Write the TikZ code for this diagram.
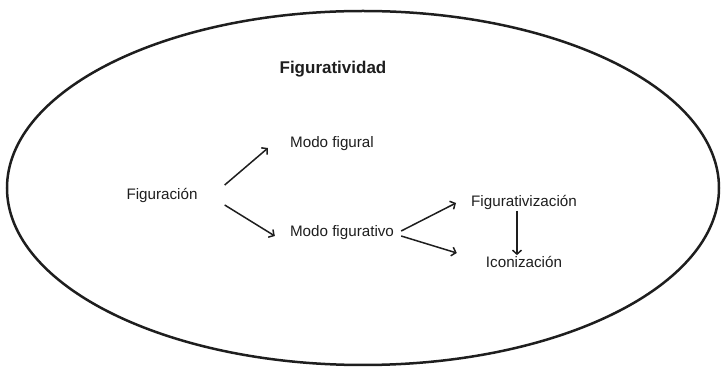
\documentclass[tikz,border=0pt]{standalone}
\usepackage{fontspec}
\setmainfont{Liberation Sans}
\usetikzlibrary{arrows.meta,calc,positioning}
\definecolor{InkBlack}{RGB}{30,30,30}

\begin{document}
\begin{tikzpicture}[x=1pt,y=1pt,>={Straight Barb[length=4pt,width=9pt]},
    term/.style={inner sep=0pt,text=InkBlack,font=\fontsize{15.2}{18}\selectfont},
    link/.style={->,line width=1.5pt,InkBlack}]
      \useasboundingbox (0,0) rectangle (721,367);
      \draw[line width=2.5pt,InkBlack] (363,179) ellipse [x radius=356, y radius=177];
      \node[term,font=\fontsize{17}{20}\selectfont\bfseries] (tit) at (333,298) {Figuratividad};
      \node[term] (fig) at (162,172) {Figuración};
      \node[term] (mfl) at (332,223) {Modo figural};
      \node[term] (mfv) at (342,134) {Modo figurativo};
      \node[term] (fzn) at (524,165) {Figurativización};
      \node[term] (icn) at (524,105) {Iconización};
      \draw[link] ([shift={(27pt,10pt)}]fig.east) -- ([shift={(-22pt,-4pt)}]mfl.west);
      \draw[link] ([shift={(27pt,-10pt)}]fig.east) -- ([shift={(-15pt,-3pt)}]mfv.west);
      \draw[link] ([shift={(7pt,2pt)}]mfv.east) -- ([shift={(-15pt,-1pt)}]fzn.west);
      \draw[link] ([shift={(7pt,-3pt)}]mfv.east) -- ([shift={(-29pt,9pt)}]icn.west);
      \draw[link] ([shift={(-7pt,-1.5pt)}]fzn.south) -- ([shift={(-7pt,1pt)}]icn.north);
    \end{tikzpicture}
\end{document}
